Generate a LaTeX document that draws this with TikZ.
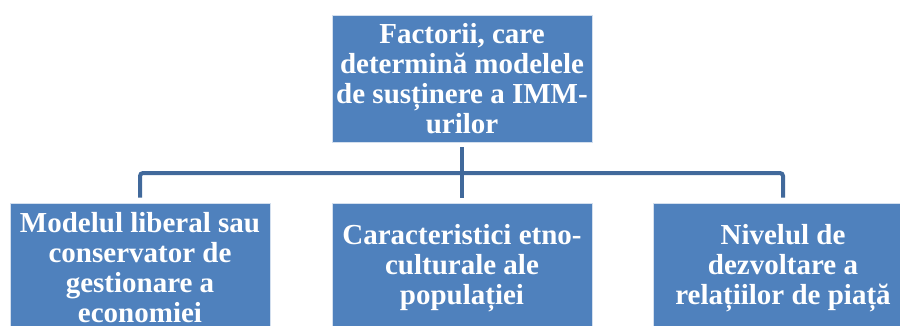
\documentclass[tikz,border=0pt]{standalone}
\usepackage{fontspec}
\setmainfont{Liberation Serif}
\definecolor{boxblue}{HTML}{4F81BD}
\definecolor{lineblue}{HTML}{41699B}
\begin{document}
\begin{tikzpicture}[x=1pt,y=-1pt,
  box/.style={draw=white!75!boxblue, line width=0.8pt, fill=boxblue, text=white,
    font=\bfseries\fontsize{29}{30}\selectfont, align=center, inner sep=0pt,
    minimum width=260pt},
  conn/.style={draw=lineblue, line width=4pt, rounded corners=3pt}]
\useasboundingbox (0,0) rectangle (900,325);
\clip (0,0) rectangle (900,325);
\node[box, minimum height=127pt] (top) at (462,78.5) {Factorii, care\\determină modelele\\de susținere a IMM-\\urilor};
\node[box, minimum height=130pt] (l) at (140,268) {Modelul liberal sau\\conservator de\\gestionare a\\economiei};
\node[box, minimum height=130pt] (m) at (462,268) {Caracteristici etno-\\culturale ale\\populației};
\node[box, minimum height=130pt] (r) at (783,268) {Nivelul de\\dezvoltare a\\relațiilor de piață};
\coordinate (bar) at (462,173);
\draw[conn] ([yshift=5pt]l.north) |- (bar) -| ([yshift=5pt]r.north);
\draw[conn] ([yshift=-5pt]top.south) -- ([yshift=5pt]m.north);
\end{tikzpicture}
\end{document}
